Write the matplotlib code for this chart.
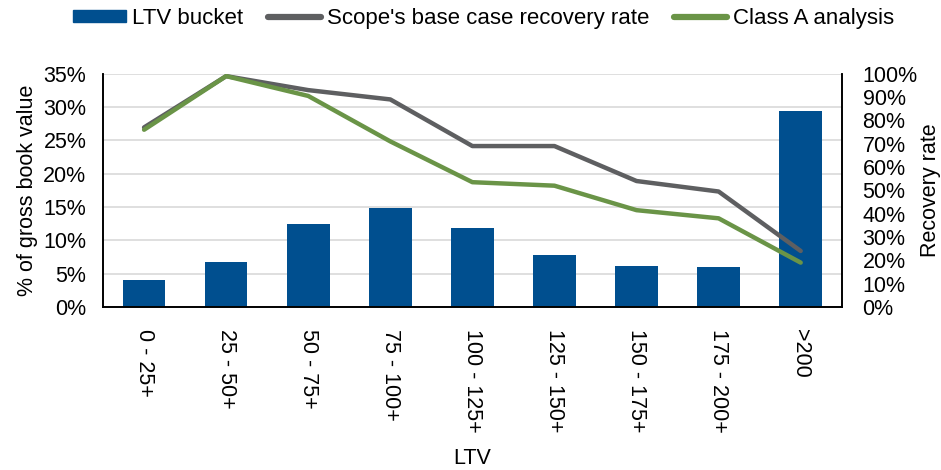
import matplotlib.pyplot as plt
from matplotlib.ticker import PercentFormatter
from matplotlib.lines import Line2D
from matplotlib.patches import Patch

plt.rcParams['font.family'] = ['Liberation Sans', 'DejaVu Sans']

# LTV buckets
categories = ["0 - 25+", "25 - 50+", "50 - 75+", "75 - 100+", "100 - 125+",
              "125 - 150+", "150 - 175+", "175 - 200+", ">200"]

# share of gross book value (%)
ltv_bucket = [4.1, 6.8, 12.4, 14.9, 11.8, 7.8, 6.2, 6.0, 29.4]

# recovery rates (%)
scope_base = [77, 99, 93, 89, 69, 69, 54, 49.5, 24]
class_a = [76, 99, 90.5, 71, 53.5, 52, 41.5, 38, 19]

BLUE = "#004F8F"
GREY = "#5E5F61"
GREEN = "#6A9447"
FS = 15.5

fig = plt.figure(figsize=(9.41, 4.70), dpi=100)
ax = fig.add_axes([0.1095, 0.347, 0.785, 0.496])
ax2 = ax.twinx()

x = list(range(len(categories)))
ax.bar(x, ltv_bucket, width=0.52, color=BLUE, zorder=2)
ax.set_ylim(0, 35)
ax.set_yticks(range(0, 36, 5))
ax.yaxis.set_major_formatter(PercentFormatter(decimals=0))
ax.grid(axis='y', color="#D9D9D9", linewidth=1.2, zorder=0)
ax.set_axisbelow(True)
ax.set_xlim(-0.5, len(categories) - 0.5)
ax.set_xticks(x)
ax.set_xticklabels(categories, rotation=-90, va='top', ha='center')
ax.tick_params(axis='y', length=0, labelsize=FS, pad=12)
ax.tick_params(axis='x', length=0, labelsize=FS, pad=16)
ax.set_ylabel("% of gross book value", fontsize=FS, labelpad=4)
ax.set_xlabel("LTV", fontsize=FS, labelpad=11)

ax2.plot(x, scope_base, color=GREY, linewidth=3.2, solid_capstyle='round', zorder=3)
ax2.plot(x, class_a, color=GREEN, linewidth=3.2, solid_capstyle='round', zorder=4)
ax2.set_ylim(0, 100)
ax2.set_yticks(range(0, 101, 10))
ax2.yaxis.set_major_formatter(PercentFormatter(decimals=0))
ax2.tick_params(length=0, labelsize=FS, pad=15)
ax2.set_ylabel("Recovery rate", fontsize=FS, labelpad=2)

for a in (ax, ax2):
    a.spines['top'].set_visible(False)
    for s in ('left', 'right', 'bottom'):
        a.spines[s].set_color('black')
        a.spines[s].set_linewidth(1.2)

handles = [
    Patch(facecolor=BLUE, edgecolor=BLUE),
    Line2D([0], [0], color=GREY, linewidth=4.5, solid_capstyle='round'),
    Line2D([0], [0], color=GREEN, linewidth=4.5, solid_capstyle='round'),
]
labels = ["LTV bucket", "Scope's base case recovery rate", "Class A analysis"]
fig.legend(handles, labels, loc='upper center', bbox_to_anchor=(0.514, 1.025),
           ncol=3, frameon=False, fontsize=16, handlelength=2.4,
           handleheight=0.45, handletextpad=0.27, columnspacing=1.1)

plt.savefig("out.png", dpi=100)
